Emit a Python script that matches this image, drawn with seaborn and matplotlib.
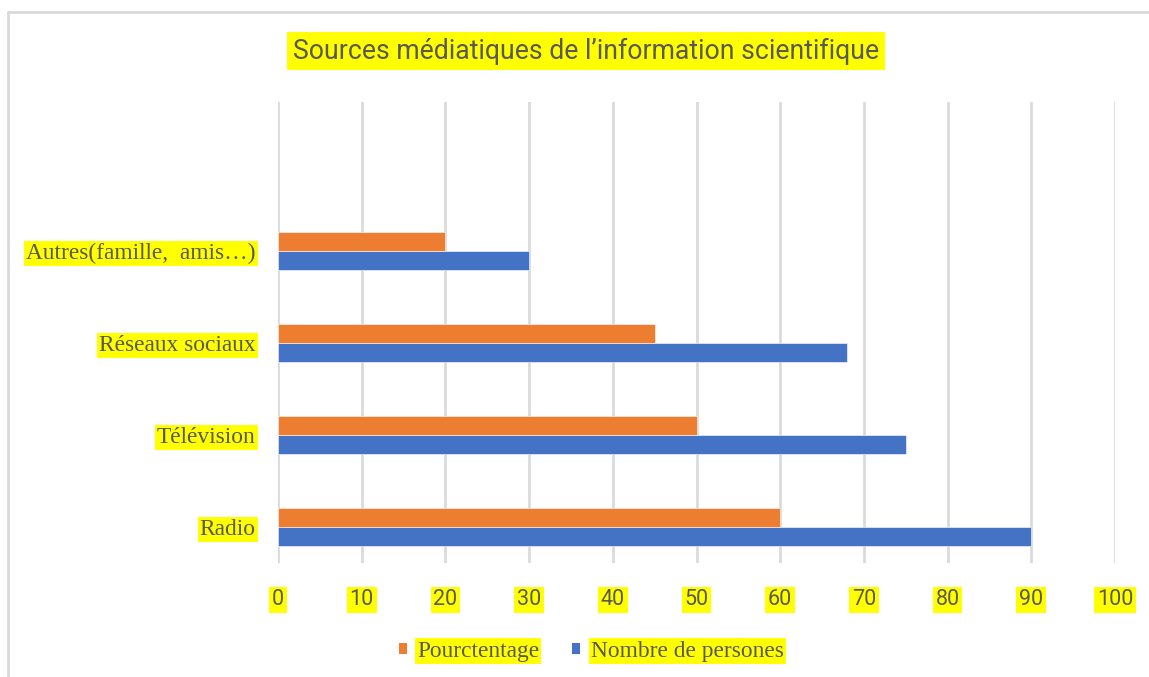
import matplotlib
matplotlib.use("Agg")
import matplotlib.pyplot as plt
import seaborn as sns
import pandas as pd
from matplotlib.patches import Patch
from matplotlib.lines import Line2D

# ---- data ----
categories = ["Radio", "Télévision", "Réseaux sociaux", "Autres(famille,  amis…)"]
pourcentage = [60, 50, 45, 20]
nombre_personnes = [90, 75, 68, 30]
series_names = ["Pourctentage", "Nombre de persones"]
x_ticks = [0, 10, 20, 30, 40, 50, 60, 70, 80, 90, 100]
title = "Sources médiatiques de l’information scientifique"

df = pd.DataFrame({
    "Source": categories * 2,
    "Valeur": pourcentage + nombre_personnes,
    "Série": [series_names[0]] * len(categories) + [series_names[1]] * len(categories),
})

ORANGE = "#ED7D31"
BLUE = "#4472C4"
TXT = "#595959"
GRID = "#D9D9D9"
HL = "#FFFF00"

sns.set_style("white")
W, H = 1149, 677
fig = plt.figure(figsize=(W / 100, H / 100), dpi=100)
ax = fig.add_axes([278 / W, 1 - 563 / H, (1115 - 278) / W, (563 - 102) / H])

sns.barplot(data=df, y="Source", x="Valeur", hue="Série", orient="h",
            order=categories, hue_order=[series_names[1], series_names[0]],
            palette={series_names[0]: ORANGE, series_names[1]: BLUE},
            saturation=1, width=0.413, gap=0, errorbar=None, ax=ax,
            edgecolor="white", linewidth=0.4, zorder=3)

ax.set_xlim(0, 100)
ax.set_ylim(-0.39, 4.62)
ax.set_xticks(x_ticks)
ax.set_xticklabels([str(t) for t in x_ticks])
ax.set_xlabel("")
ax.set_ylabel("")
for s in ax.spines.values():
    s.set_visible(False)
ax.grid(axis="x", color=GRID, linewidth=1.9, zorder=0)
ax.grid(axis="y", visible=False)
ax.set_axisbelow(True)
ax.tick_params(axis="both", length=0)
ax.tick_params(axis="x", pad=19)
ax.tick_params(axis="y", pad=16)

for lab in ax.get_xticklabels():
    lab.set_fontfamily("Roboto")
    lab.set_fontsize(15.5)
    lab.set_color(TXT)
    lab.set_bbox(dict(facecolor=HL, edgecolor="none", pad=2))
for lab in ax.get_yticklabels():
    lab.set_fontfamily("Liberation Serif")
    lab.set_fontsize(16.8)
    lab.set_color(TXT)
    lab.set_bbox(dict(facecolor=HL, edgecolor="none", pad=1.5))

if ax.get_legend() is not None:
    ax.get_legend().remove()

handles = [Patch(facecolor=ORANGE, edgecolor="none"), Patch(facecolor=BLUE, edgecolor="none")]
leg = fig.legend(handles, series_names, loc="center",
                 bbox_to_anchor=(591 / W, 1 - 651 / H), ncol=2, frameon=False,
                 prop={"family": "Liberation Serif", "size": 16.8},
                 handlelength=0.35, handleheight=0.35, handletextpad=0.45,
                 columnspacing=1.4, labelcolor=TXT)
for t in leg.get_texts():
    t.set_bbox(dict(facecolor=HL, edgecolor="none", pad=1.5))

fig.text(586 / W, 1 - 51 / H, title, ha="center", va="center",
         fontfamily="Roboto", fontsize=19.2, color=TXT,
         bbox=dict(facecolor=HL, edgecolor="none", pad=4))

# chart frame (top and left visible)
fig.add_artist(Line2D([8 / W, 1], [1 - 12 / H, 1 - 12 / H], transform=fig.transFigure,
                      color=GRID, linewidth=2))
fig.add_artist(Line2D([8 / W, 8 / W], [0, 1 - 12 / H], transform=fig.transFigure,
                      color=GRID, linewidth=2))

fig.savefig("out.png", dpi=100, facecolor="white")
